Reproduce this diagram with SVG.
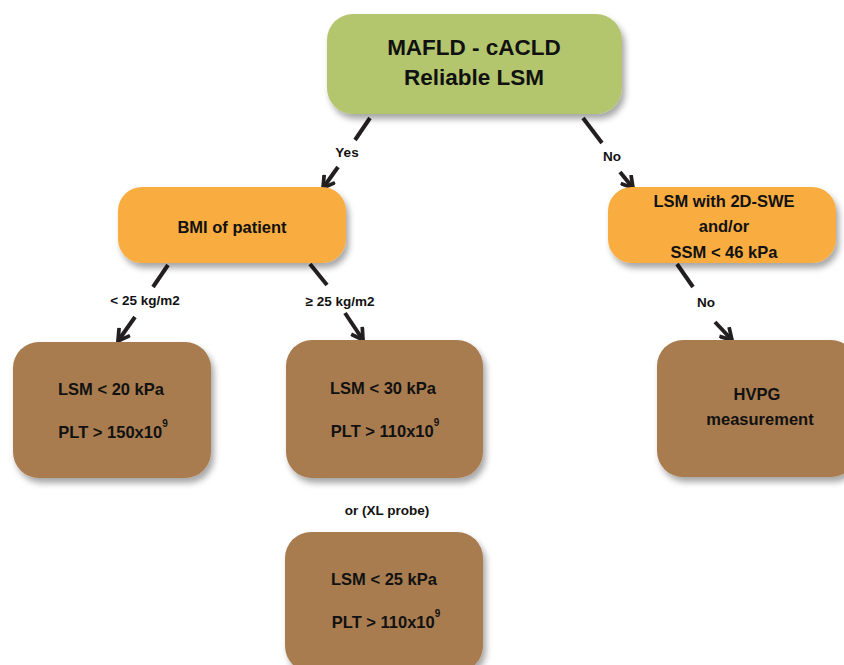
<svg xmlns="http://www.w3.org/2000/svg" width="844" height="665" viewBox="0 0 844 665">
<defs>
<filter id="sh" x="-10%" y="-10%" width="130%" height="140%">
<feDropShadow dx="3" dy="5" stdDeviation="3" flood-color="#000" flood-opacity="0.35"/>
</filter>
<marker id="ah" viewBox="0 0 12 12" refX="10" refY="6" markerWidth="16" markerHeight="16" markerUnits="userSpaceOnUse" orient="auto">
<path d="M1.5,1 L10,6 L1.5,11" fill="none" stroke="#231f20" stroke-width="2.8"/>
</marker>
</defs>
<style>
text{font-family:"Liberation Sans",Arial,sans-serif;font-weight:bold;fill:#111;text-anchor:middle}
.green{fill:#b3c66e}
.orange{fill:#f9ad3f}
.brown{fill:#a87b50}
.t16{font-size:16.5px}
.lbl{font-size:13.5px}
.sup{font-size:10px}
.conn line{stroke:#231f20;stroke-width:4;fill:none}
</style>
<rect width="844" height="665" fill="#fff"/>
<g id="conns" class="conn">
<line x1="370" y1="118" x2="355" y2="140"/>
<line x1="338" y1="167" x2="323" y2="188" marker-end="url(#ah)"/>
<line x1="583" y1="118" x2="602" y2="143"/>
<line x1="620" y1="172" x2="633" y2="188" marker-end="url(#ah)"/>
<line x1="168" y1="265" x2="153" y2="287"/>
<line x1="135" y1="317" x2="118" y2="341" marker-end="url(#ah)"/>
<line x1="310" y1="264" x2="327" y2="285"/>
<line x1="345" y1="313" x2="363" y2="340" marker-end="url(#ah)"/>
<line x1="677" y1="264" x2="693" y2="287"/>
<line x1="715" y1="322" x2="732" y2="340" marker-end="url(#ah)"/>
<text class="lbl" x="347" y="157">Yes</text>
<text class="lbl" x="612" y="161">No</text>
<text class="lbl" x="145" y="305">&lt; 25 kg/m2</text>
<text class="lbl" x="340" y="306">≥ 25 kg/m2</text>
<text class="lbl" x="706" y="307">No</text>
</g>
<g id="root">
<rect class="green" x="327" y="14" width="295" height="100" rx="26" filter="url(#sh)"/>
<text x="474" y="55" font-size="22.5">MAFLD - cACLD</text>
<text x="474" y="85" font-size="22.5">Reliable LSM</text>
</g>
<g id="bmi">
<rect class="orange" x="118" y="187" width="228" height="76" rx="24" filter="url(#sh)"/>
<text class="t16" x="232" y="233">BMI of patient</text>
</g>
<g id="swe">
<rect class="orange" x="608" y="187" width="228" height="76" rx="24" filter="url(#sh)"/>
<text class="t16" x="724" y="207">LSM with 2D-SWE</text>
<text class="t16" x="724" y="232">and/or</text>
<text class="t16" x="724" y="258">SSM &lt; 46 kPa</text>
</g>
<g id="low">
<rect class="brown" x="13" y="342" width="198" height="136" rx="26" filter="url(#sh)"/>
<text class="t16" x="111" y="395">LSM &lt; 20 kPa</text>
<text class="t16" x="113" y="438">PLT &gt; 150x10<tspan class="sup" dy="-11">9</tspan></text>
</g>
<g id="high">
<rect class="brown" x="286" y="340" width="197" height="138" rx="26" filter="url(#sh)"/>
<text class="t16" x="383" y="394">LSM &lt; 30 kPa</text>
<text class="t16" x="385" y="437">PLT &gt; 110x10<tspan class="sup" dy="-11">9</tspan></text>
</g>
<text id="xl" class="lbl" x="387" y="515">or (XL probe)</text>
<g id="xlbox">
<rect class="brown" x="285" y="532" width="198" height="140" rx="26" filter="url(#sh)"/>
<text class="t16" x="384" y="585">LSM &lt; 25 kPa</text>
<text class="t16" x="386" y="628">PLT &gt; 110x10<tspan class="sup" dy="-11">9</tspan></text>
</g>
<g id="hvpg">
<rect class="brown" x="657" y="340" width="200" height="137" rx="26" filter="url(#sh)"/>
<text class="t16" x="757" y="400">HVPG</text>
<text class="t16" x="760" y="425">measurement</text>
</g>
</svg>
